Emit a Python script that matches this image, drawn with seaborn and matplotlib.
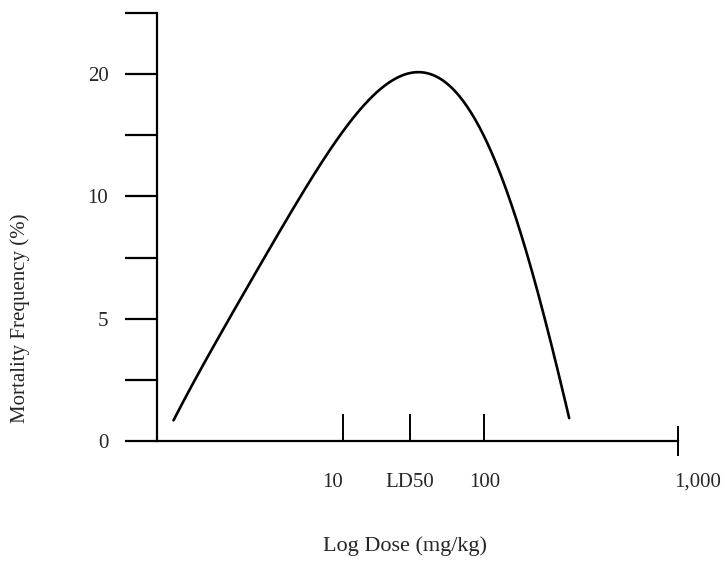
import numpy as np
import pandas as pd
import matplotlib
matplotlib.use("Agg")
from matplotlib import pyplot as plt
from matplotlib.ticker import FixedLocator, FixedFormatter
from matplotlib.transforms import ScaledTranslation
import seaborn as sns

# curve: x in log10 dose units, y in axis tick steps
log_dose = [-0.20, -0.05, 0.19, 0.42, 0.66, 0.89, 1.01, 1.13, 1.24, 1.36,
            1.50, 1.64, 1.76, 1.88, 1.97, 2.07, 2.18, 2.30, 2.42, 2.54, 2.60]
mortality = [0.34, 0.99, 1.98, 2.93, 3.83, 4.68, 5.12, 5.46, 5.72, 5.91,
             6.02, 5.96, 5.80, 5.47, 5.09, 4.65, 3.94, 3.07, 2.03, 0.99, 0.36]

x_ticks = [1.0, 1.47, 2.0]
x_labels = ["10", "LD50", "100"]
x_end_tick = [3.37]
x_end_label = ["1,000"]
y_ticks = [0, 1, 2, 3, 4, 5, 6, 7]
y_labels = ["0", "", "5", "", "10", "", "20", ""]

# smooth least-squares curve through the read points
coef = np.polyfit(log_dose, mortality, 6)
xs = np.linspace(log_dose[0], log_dose[-1], 300)
smooth = pd.DataFrame({"log_dose": xs, "mortality": np.polyval(coef, xs)})

sns.set_style("white")
plt.rcParams["font.family"] = ["Liberation Serif", "DejaVu Serif"]

fig = plt.figure(figsize=(7.23, 5.61), dpi=100)
ax = fig.add_axes([157 / 723, 120 / 561, 521 / 723, 428 / 561])

sns.lineplot(data=smooth, x="log_dose", y="mortality", ax=ax, color="black",
             linewidth=1.9, sort=False, estimator=None)

ax.set_xlim(1 - 187 / 142, x_end_tick[0])
ax.set_ylim(0, 7)

for s in ["top", "right"]:
    ax.spines[s].set_visible(False)
for s in ["left", "bottom"]:
    ax.spines[s].set_linewidth(1.6)
    ax.spines[s].set_color("black")

ax.yaxis.set_major_locator(FixedLocator(y_ticks))
ax.yaxis.set_major_formatter(FixedFormatter(y_labels))
ax.tick_params(axis="y", direction="out", length=23, width=1.6, pad=12,
               labelsize=15, color="black", left=True)

ax.xaxis.set_major_locator(FixedLocator(x_ticks))
ax.xaxis.set_major_formatter(FixedFormatter(x_labels))
ax.xaxis.set_minor_locator(FixedLocator(x_end_tick))
ax.xaxis.set_minor_formatter(FixedFormatter(x_end_label))
ax.tick_params(axis="x", which="major", direction="in", length=19.5, width=1.4,
               pad=23, labelsize=15, color="black", bottom=True)
ax.tick_params(axis="x", which="minor", direction="inout", length=21, width=1.4,
               pad=12.5, labelsize=15, color="black", bottom=True)
for lab, ha in zip(ax.get_xticklabels(), ["right", "center", "center"]):
    lab.set_ha(ha)
shift = ScaledTranslation(-4 / 100, 0, fig.dpi_scale_trans)
for lab in ax.get_xticklabels(minor=True):
    lab.set_ha("left")
    lab.set_transform(lab.get_transform() + shift)
ax.spines["bottom"].set_bounds(1 - 187 / 142, x_end_tick[0])

ax.set_xlabel("Log Dose (mg/kg)", fontsize=16)
ax.xaxis.set_label_coords(0.476, -0.222)
ax.set_ylabel("Mortality Frequency (%)", fontsize=15, va="center")
ax.yaxis.set_label_coords(-0.263, 0.287)

fig.savefig("out.png", dpi=100, facecolor="white")
